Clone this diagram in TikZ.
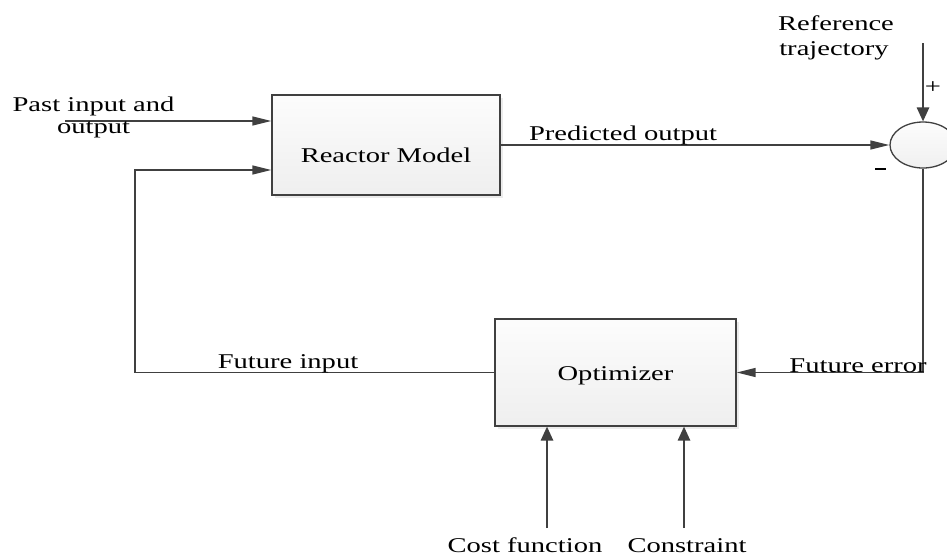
\documentclass[tikz,border=0pt]{standalone}
\usepackage{fontspec}
\setmainfont{Liberation Serif}[FakeStretch=1.36]
\usetikzlibrary{arrows.meta,shapes.geometric,shadows,calc}
\definecolor{ink}{HTML}{404040}
\tikzset{
  conn/.style={draw=ink, line width=1.4pt},
  harr/.style={conn, -{Triangle[length=19pt,width=9pt]}},
  varr/.style={conn, -{Triangle[length=14pt,width=12.5pt]}},
  block/.style={draw=ink, line width=1.3pt, rectangle,
    top color=gray!2, bottom color=gray!13,
    drop shadow={shadow xshift=2.5pt, shadow yshift=-2.5pt, fill=gray!30, opacity=.5}},
  lbl/.style={inner sep=0pt, font=\fontsize{21}{25}\selectfont, text=black},
}
\begin{document}
\begin{tikzpicture}[x=1pt, y=-1pt]
  \clip (0,0) rectangle (947,558);
  \fill[white] (0,0) rectangle (947,558);

  % blocks
  \node[block, minimum width=228pt, minimum height=100pt, text height=34pt, text depth=0pt,
        lbl, inner sep=0pt] (model) at (386,145) {Reactor Model};
  \node[block, minimum width=241pt, minimum height=107pt, text height=15pt, text depth=0pt,
        lbl, inner sep=0pt] (opt) at (615.5,372.5) {Optimizer};

  % summing junction
  \node[ellipse, draw=ink, line width=1.3pt, minimum width=66pt, minimum height=46pt,
        inner sep=0pt, top color=gray!2, bottom color=gray!12] (sum) at (923,145) {};

  % free ends of connectors
  \coordinate (pin) at (65,121);
  \coordinate (fb) at (135,170);
  \coordinate (ref) at (923,43);
  \coordinate (cost) at (547,528);
  \coordinate (cons) at (684,528);

  % connectors
  \draw[harr] (pin) -- (pin -| model.west);
  \draw[harr] (opt.west) -- (opt.west -| fb) -- (fb) -- (fb -| model.west);
  \draw[harr] (model.east) -- (sum.west);
  \draw[varr] (ref) -- (sum.north);
  \draw[harr] (sum.south) |- (opt.east);
  \draw[varr] (cost) -- (cost |- opt.south);
  \draw[varr] (cons) -- (cons |- opt.south);

  % labels
  \node[lbl, anchor=base] (t1) at (836,30) {Reference};
  \node[lbl, anchor=base] (t2) at (834,55) {trajectory};
  \node[lbl, anchor=base] (t3) at (93.5,111) {Past input and};
  \node[lbl, anchor=base] (t4) at (93.5,133) {output};
  \node[lbl, anchor=base] (t5) at (623,140) {Predicted output};
  \node[lbl, anchor=base] (t6) at (288,368) {Future input};
  \node[lbl, anchor=base] (t7) at (858,372) {Future error};
  \node[lbl, anchor=base] (t8) at (525,552) {Cost function};
  \node[lbl, anchor=base] (t9) at (687,552) {Constraint};
  \node[lbl] (plus) at (933,88) {+};
  \node[inner sep=0pt] (minus) at (880.5,169) {\textcolor{black}{\rule{11pt}{2.6pt}}};
\end{tikzpicture}
\end{document}
